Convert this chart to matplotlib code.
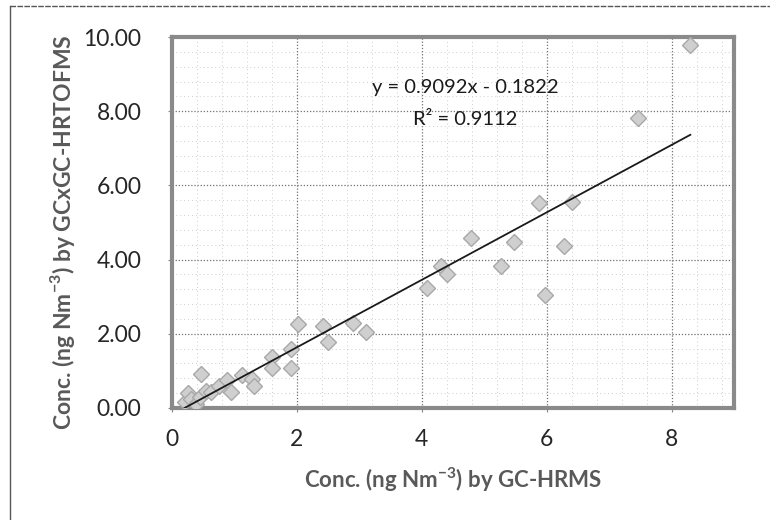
import matplotlib
matplotlib.use("Agg")
import matplotlib.pyplot as plt
from matplotlib.ticker import MultipleLocator
import numpy as np

plt.rcParams['font.family'] = ['Lato', 'DejaVu Sans']
plt.rcParams['mathtext.fontset'] = 'custom'
plt.rcParams['mathtext.rm'] = 'Lato'
plt.rcParams['mathtext.bf'] = 'Lato:bold'

# concentrations (ng Nm-3)
gc_hrms = [0.20, 0.25, 0.30, 0.38, 0.45, 0.47, 0.55, 0.62, 0.75, 0.88, 0.95, 1.12, 1.28, 1.32,
           1.60, 1.60, 1.90, 1.90, 2.02, 2.42, 2.50, 2.90, 3.10, 4.08, 4.30, 4.40, 4.78,
           5.27, 5.48, 5.88, 5.98, 6.28, 6.40, 7.47, 8.30]
gcxgc = [0.15, 0.40, 0.25, 0.10, 0.30, 0.92, 0.45, 0.42, 0.58, 0.75, 0.42, 0.90, 0.78, 0.58,
         1.38, 1.08, 1.58, 1.08, 2.27, 2.22, 1.78, 2.29, 2.05, 3.23, 3.82, 3.62, 4.57,
         3.82, 4.48, 5.52, 3.05, 4.37, 5.55, 7.81, 9.78]

slope = 0.9092
intercept = -0.1822
r2 = 0.9112

x_ticks = [0, 2, 4, 6, 8]
y_ticks = [0, 2, 4, 6, 8, 10]

fig = plt.figure(figsize=(7.7, 5.2), dpi=100)
ax = fig.add_axes([0.2234, 0.2154, 0.7299, 0.7134])

# grid (Excel-like dotted)
ax.set_xlim(0, 9)
ax.set_ylim(0, 10)
ax.xaxis.set_minor_locator(MultipleLocator(0.4))
ax.yaxis.set_minor_locator(MultipleLocator(0.4))
ax.grid(which='major', color='#707070', linestyle=(0, (1, 1.5)), linewidth=0.9)
ax.grid(which='minor', color='#cccccc', linestyle=(0, (1, 3)), linewidth=0.7)
ax.set_axisbelow(True)

ax.plot(gc_hrms, gcxgc, linestyle='none', marker='D', markersize=8.5,
        markerfacecolor='#cfcfcf', markeredgecolor='#a8a8a8', markeredgewidth=1, zorder=3)

xs = np.array([min(gc_hrms), max(gc_hrms)])
ax.plot(xs, slope * xs + intercept, color='#1a1a1a', linewidth=1.3, zorder=4)

ax.text(4.7, 8.63, 'y = %.4fx - %.4f' % (slope, -intercept), ha='center', va='center',
        fontsize=14.5, color='#1a1a1a')
ax.text(4.7, 7.77, 'R² = %.4f' % r2, ha='center', va='center', fontsize=14.5, color='#1a1a1a')

ax.set_xticks(x_ticks)
ax.set_xticklabels([str(t) for t in x_ticks])
ax.set_yticks(y_ticks)
ax.set_yticklabels(['%.2f' % t for t in y_ticks])
ax.tick_params(which='major', labelsize=16.5, labelcolor='#262626', length=3, color='#888888')
ax.tick_params(axis='y', pad=19)
ax.tick_params(axis='x', pad=12)
ax.tick_params(which='minor', length=0)

for s in ax.spines.values():
    s.set_color('#8a8a8a')
    s.set_linewidth(3)

ax.set_xlabel(r'Conc. (ng Nm$^{\mathbf{-3}}$) by GC-HRMS', fontsize=16, fontweight='bold',
              color='#595959')
ax.set_ylabel(r'Conc. (ng Nm$^{\mathbf{-3}}$) by GCxGC-HRTOFMS', fontsize=16.5,
              fontweight='bold', color='#595959')
ax.xaxis.set_label_coords(0.5, -0.156)
ax.yaxis.set_label_coords(-0.169, 0.474)

# scanned outer frame (left and top edges)
fig.add_artist(plt.Line2D([0.013, 0.013], [0.0, 0.988], transform=fig.transFigure,
                          color='#555555', linewidth=1))
fig.add_artist(plt.Line2D([0.013, 1.0], [0.988, 0.988], transform=fig.transFigure,
                          color='#555555', linewidth=1, linestyle=(0, (4, 1))))

fig.savefig('out.png', dpi=100)
